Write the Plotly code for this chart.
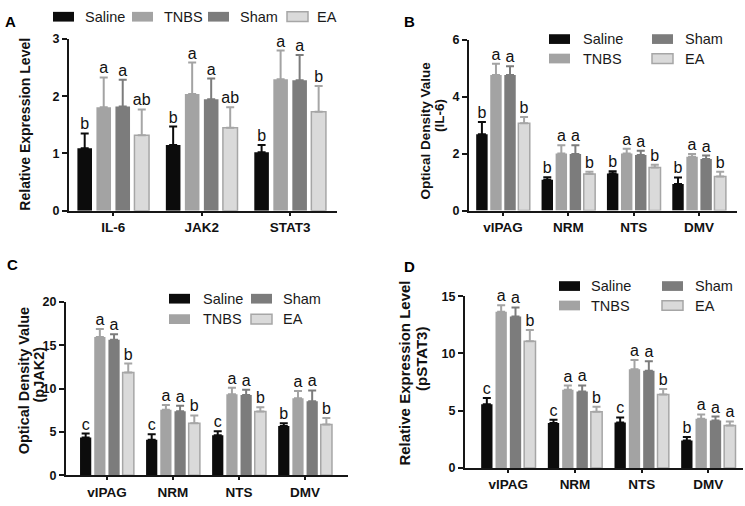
import plotly.graph_objects as go

W, H = 745, 506
FONT = "Liberation Sans, Arial, sans-serif"

GROUPS = ["Saline", "TNBS", "Sham", "EA"]
REGIONS = ["vlPAG", "NRM", "NTS", "DMV"]

# ---------------- Panel A ----------------
A_CATS = ["IL-6", "JAK2", "STAT3"]
A_SALINE = [1.09, 1.15, 1.02]
A_TNBS = [1.81, 2.04, 2.30]
A_SHAM = [1.82, 1.95, 2.28]
A_EA = [1.32, 1.45, 1.73]
A_SALINE_SEM = [0.26, 0.32, 0.13]
A_TNBS_SEM = [0.52, 0.55, 0.50]
A_SHAM_SEM = [0.47, 0.36, 0.44]
A_EA_SEM = [0.45, 0.36, 0.45]
A_SALINE_SIG = ["b", "b", "b"]
A_TNBS_SIG = ["a", "a", "a"]
A_SHAM_SIG = ["a", "a", "a"]
A_EA_SIG = ["ab", "ab", "b"]
A_YTICKS = [0, 1, 2, 3]

# ---------------- Panel B (IL-6) ----------------
B_SALINE = [2.68, 1.08, 1.30, 0.93]
B_TNBS = [4.76, 2.00, 2.00, 1.89]
B_SHAM = [4.76, 1.98, 1.95, 1.81]
B_EA = [3.06, 1.28, 1.51, 1.19]
B_SALINE_SEM = [0.43, 0.09, 0.08, 0.23]
B_TNBS_SEM = [0.39, 0.29, 0.17, 0.09]
B_SHAM_SEM = [0.30, 0.31, 0.15, 0.12]
B_EA_SEM = [0.22, 0.08, 0.10, 0.17]
B_SALINE_SIG = ["b", "b", "b", "b"]
B_TNBS_SIG = ["a", "a", "a", "a"]
B_SHAM_SIG = ["a", "a", "a", "a"]
B_EA_SIG = ["b", "b", "b", "b"]
B_YTICKS = [0, 2, 4, 6]

# ---------------- Panel C (pJAK2) ----------------
C_SALINE = [4.37, 4.11, 4.62, 5.71]
C_TNBS = [15.96, 7.58, 9.35, 8.90]
C_SHAM = [15.66, 7.39, 9.28, 8.55]
C_EA = [11.86, 6.02, 7.37, 5.87]
C_SALINE_SEM = [0.45, 0.64, 0.47, 0.31]
C_TNBS_SEM = [0.94, 0.54, 0.75, 0.84]
C_SHAM_SEM = [0.64, 0.65, 0.60, 1.25]
C_EA_SEM = [1.05, 0.89, 0.49, 0.75]
C_SALINE_SIG = ["c", "c", "c", "b"]
C_TNBS_SIG = ["a", "a", "a", "a"]
C_SHAM_SIG = ["a", "a", "a", "a"]
C_EA_SIG = ["b", "b", "b", "b"]
C_YTICKS = [0, 5, 10, 15, 20]

# ---------------- Panel D (pSTAT3) ----------------
D_SALINE = [5.56, 3.92, 3.96, 2.40]
D_TNBS = [13.65, 6.84, 8.62, 4.29]
D_SHAM = [13.23, 6.68, 8.50, 4.15]
D_EA = [11.07, 4.91, 6.41, 3.70]
D_SALINE_SEM = [0.55, 0.28, 0.45, 0.31]
D_TNBS_SEM = [0.56, 0.36, 0.82, 0.38]
D_SHAM_SEM = [0.79, 0.53, 0.81, 0.34]
D_EA_SEM = [0.99, 0.43, 0.48, 0.36]
D_SALINE_SIG = ["c", "c", "c", "b"]
D_TNBS_SIG = ["a", "a", "a", "a"]
D_SHAM_SIG = ["a", "a", "a", "a"]
D_EA_SIG = ["b", "b", "b", "a"]
D_YTICKS = [0, 5, 10, 15]

# ---------------- style ----------------
FILL = {"Saline": "#0c0c0c", "TNBS": "#a3a3a3", "Sham": "#7c7c7c", "EA": "#dadada"}
EDGE = {"Saline": "#0c0c0c", "TNBS": "#a3a3a3", "Sham": "#7c7c7c", "EA": "#a6a6a6"}
AXC = "#161616"
SLOT = 0.215


def px(x):
    return x / W


def py(y):
    return 1 - y / H


panels = [
    dict(s="", cats=A_CATS, vals=[A_SALINE, A_TNBS, A_SHAM, A_EA],
         sem=[A_SALINE_SEM, A_TNBS_SEM, A_SHAM_SEM, A_EA_SEM],
         sig=[A_SALINE_SIG, A_TNBS_SIG, A_SHAM_SIG, A_EA_SIG],
         yt=A_YTICKS, xdom=(69, 337), ydom=(33, 209.5), xr=(-0.5, 2.53), bw=0.165),
    dict(s="2", cats=REGIONS, vals=[B_SALINE, B_TNBS, B_SHAM, B_EA],
         sem=[B_SALINE_SEM, B_TNBS_SEM, B_SHAM_SEM, B_EA_SEM],
         sig=[B_SALINE_SIG, B_TNBS_SIG, B_SHAM_SIG, B_EA_SIG],
         yt=B_YTICKS, xdom=(469, 737), ydom=(33.5, 209.3), xr=(-0.52, 3.58), bw=0.175),
    dict(s="3", cats=REGIONS, vals=[C_SALINE, C_TNBS, C_SHAM, C_EA],
         sem=[C_SALINE_SEM, C_TNBS_SEM, C_SHAM_SEM, C_EA_SEM],
         sig=[C_SALINE_SIG, C_TNBS_SIG, C_SHAM_SIG, C_EA_SIG],
         yt=C_YTICKS, xdom=(66, 348), ydom=(303.5, 481.7), xr=(-0.62, 3.65), bw=0.17),
    dict(s="4", cats=REGIONS, vals=[D_SALINE, D_TNBS, D_SHAM, D_EA],
         sem=[D_SALINE_SEM, D_TNBS_SEM, D_SHAM_SEM, D_EA_SEM],
         sig=[D_SALINE_SIG, D_TNBS_SIG, D_SHAM_SIG, D_EA_SIG],
         yt=D_YTICKS, xdom=(465, 743), ydom=(297.5, 474), xr=(-0.65, 3.52), bw=0.17),
]

fig = go.Figure()
layout_axes = {}

for p in panels:
    s = p["s"]
    n = len(p["cats"])
    for j, g in enumerate(GROUPS):
        xs = [i + (j - 1.5) * SLOT for i in range(n)]
        vals = p["vals"][j]
        sem = p["sem"][j]
        fig.add_trace(go.Bar(
            x=xs, y=vals, width=p["bw"], name=g, showlegend=False,
            marker=dict(color=FILL[g], line=dict(color=EDGE[g], width=1.5 if g == "EA" else 0)),
            error_y=dict(type="data", array=sem, arrayminus=[0] * n, symmetric=False,
                         color=EDGE[g], thickness=2, width=4),
            xaxis="x" + s, yaxis="y" + s,
        ))
        fig.add_trace(go.Scatter(
            x=xs, y=[v + e for v, e in zip(vals, sem)], mode="text",
            text=p["sig"][j], textposition="top center", showlegend=False,
            textfont=dict(family=FONT, size=16, color="#111111"),
            cliponaxis=False, hoverinfo="skip",
            xaxis="x" + s, yaxis="y" + s,
        ))
    layout_axes["xaxis" + s] = dict(
        domain=[px(p["xdom"][0]), px(p["xdom"][1])], range=list(p["xr"]),
        tickvals=list(range(n)), ticktext=p["cats"], anchor="y" + s,
        showline=True, linewidth=2, linecolor=AXC, ticks="outside", ticklen=3,
        tickwidth=2, tickcolor=AXC, showgrid=False, zeroline=False,
        tickfont=dict(family=FONT, size=13.5, color="#111111", weight="bold"),
    )
    layout_axes["yaxis" + s] = dict(
        domain=[py(p["ydom"][1]), py(p["ydom"][0])],
        range=[0, p["yt"][-1]], tickvals=p["yt"], anchor="x" + s,
        showline=True, linewidth=2, linecolor=AXC, ticks="outside", ticklen=5,
        tickwidth=2, tickcolor=AXC, showgrid=False, zeroline=False,
        tickfont=dict(family=FONT, size=12.5, color="#111111", weight="bold"),
    )

annotations = []
shapes = []

# panel letters
for lab, (x, y) in {"A": (10, 15), "B": (409, 15), "C": (12, 265), "D": (409, 267)}.items():
    annotations.append(dict(text=lab, x=px(x), y=py(y), xref="paper", yref="paper",
                            xanchor="center", yanchor="middle", showarrow=False,
                            font=dict(family=FONT, size=15, color="#000", weight="bold")))

# y-axis titles
TITLES = [
    ("Relative Expression Level", 25, 121, 14),
    ("Optical Density Value", 425, 127, 13.5),
    ("(IL-6)", 440, 112, 13.5),
    ("Optical Density Value", 24, 385, 14.5),
    ("(pJAK2)", 39, 378, 14.5),
    ("Relative Expression Level", 405, 377, 15),
    ("(pSTAT3)", 422, 362, 15),
]
for t, x, y, fs in TITLES:
    annotations.append(dict(text=t, x=px(x), y=py(y), xref="paper", yref="paper",
                            xanchor="center", yanchor="middle",
                            textangle=-90, showarrow=False,
                            font=dict(family=FONT, size=fs, color="#111111", weight="bold")))

# legends (swatch left x, center y, text left x) per entry
LEGENDS = [
    {"Saline": (53, 10, 83), "TNBS": (132, 10, 162), "Sham": (208, 10, 238), "EA": (287, 10, 315)},
    {"Saline": (549, 33, 581), "Sham": (652, 33, 683), "TNBS": (549, 53, 581), "EA": (652, 53, 683)},
    {"Saline": (169, 300, 201), "Sham": (251, 300, 281), "TNBS": (169, 321, 201), "EA": (251, 321, 281)},
    {"Saline": (559, 287, 589), "Sham": (662, 287, 693), "TNBS": (559, 307, 589), "EA": (662, 307, 693)},
]
for leg in LEGENDS:
    for g, (sx, cy, tx) in leg.items():
        shapes.append(dict(type="rect", xref="paper", yref="paper",
                           x0=px(sx), x1=px(sx + 21), y0=py(cy + 5), y1=py(cy - 5),
                           fillcolor=FILL[g], line=dict(color=EDGE[g], width=1.5 if g == "EA" else 0)))
        annotations.append(dict(text=g, x=px(tx), y=py(cy), xref="paper", yref="paper",
                                xanchor="left", yanchor="middle", showarrow=False,
                                font=dict(family=FONT, size=14.5, color="#1a1a1a")))

fig.update_layout(
    width=W, height=H, margin=dict(l=0, r=0, t=0, b=0),
    paper_bgcolor="white", plot_bgcolor="white", barmode="overlay",
    annotations=annotations, shapes=shapes, **layout_axes,
)

fig.write_html("out.html", config={"displayModeBar": False},
               post_script="document.body.style.margin='0';")
